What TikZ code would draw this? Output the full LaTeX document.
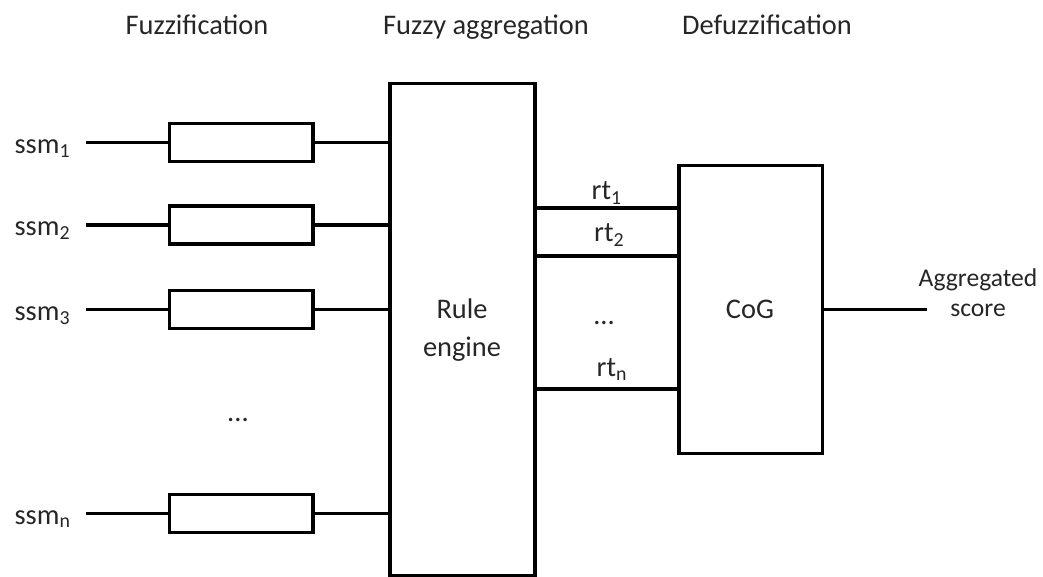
\documentclass[tikz,border=0pt]{standalone}
\usepackage{fontspec}
\setmainfont{Carlito}
\begin{document}
\begin{tikzpicture}[x=1pt,y=-1pt,line width=3.2pt,
  lbl/.style={font=\fontsize{28.4}{34}\selectfont, inner sep=0pt, text=black!85, anchor=base},
  fbox/.style={draw, minimum width=143.5pt, minimum height=38pt, inner sep=0pt},
  bigbox/.style={draw, inner sep=0pt},
  conn/.style={line width=3.2pt}]
\useasboundingbox (0,0) rectangle (1043,577);
% headers
\node[lbl] (h1) at (197,35) {Fuzzification};
\node[lbl] (h2) at (486,35) {Fuzzy aggregation};
\node[lbl] (h3) at (767,35) {Defuzzification};
% big boxes
\node[bigbox, minimum width=145pt, minimum height=492pt] (R) at (462.5,329.5) {};
\node[lbl, align=center, font=\fontsize{28.4}{38.5}\selectfont] (Rtxt) at (462,356.7) {Rule\\engine};
\node[bigbox, minimum width=143.5pt, minimum height=288pt] (C) at (750.75,309.6) {};
\node[lbl] (Ctxt) at (750,318) {CoG};
% fuzzification rows
\foreach \i/\y/\s in {1/142.8/1, 2/225/2, 3/309.7/3, n/513.5/n}{
  \node[lbl, anchor=base west] (s\i) at (13,\y+10.5) {ssm\textsubscript{\s}};
  \coordinate (in\i) at (86,\y);
  \node[fbox] (f\i) at (241.25,\y) {};
  \draw[conn] (in\i) -- (f\i.west);
  \draw[conn] (f\i.east) -- (f\i.east -| R.west);
}
\node[lbl] (dots1) at (238,421) {...};
% rule outputs
\foreach \i/\y in {1/208, 2/256, n/389}{
  \draw[conn] (R.east |- 0,\y) coordinate (r\i) -- (C.west |- 0,\y);
}
\node[lbl, anchor=base west] (rt1) at (590,200) {rt\textsubscript{1}};
\node[lbl, anchor=base west] (rt2) at (592.5,241.7) {rt\textsubscript{2}};
\node[lbl] (dots2) at (604,324) {...};
\node[lbl, anchor=base west] (rtn) at (595,376.7) {rt\textsubscript{n}};
% output
\coordinate (out) at (927,309.6);
\draw[conn] (C.east) -- (out);
\node[lbl, align=center, font=\fontsize{25.6}{30}\selectfont] (agg) at (978,316.7) {Aggregated\\score};
\end{tikzpicture}
\end{document}
